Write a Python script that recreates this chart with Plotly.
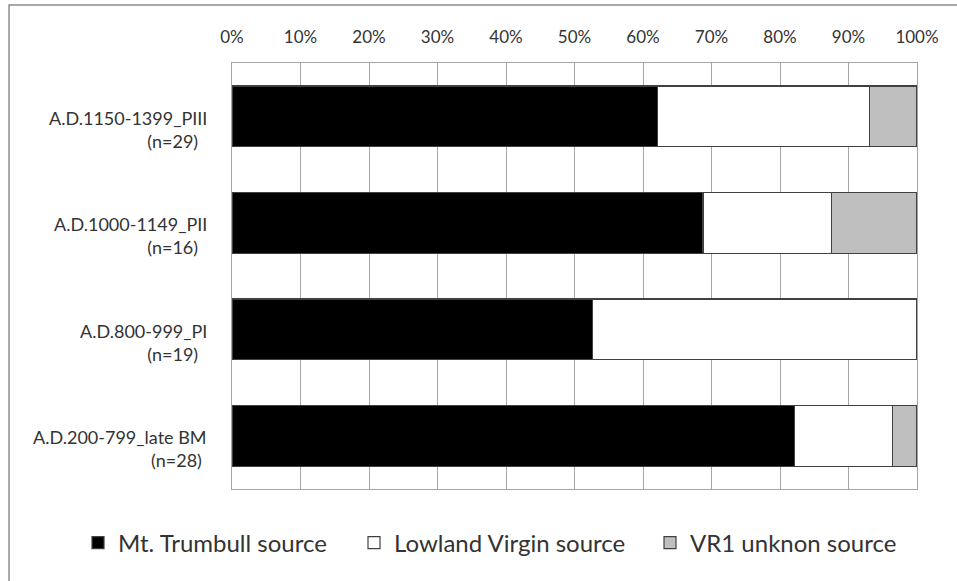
import plotly.graph_objects as go

categories = [
    "A.D.200-799_late BM",
    "A.D.800-999_PI",
    "A.D.1000-1149_PII",
    "A.D.1150-1399_PIII",
]
sample_sizes = ["(n=28)", "(n=19)", "(n=16)", "(n=29)"]
mt_trumbull = [23, 10, 11, 18]
lowland_virgin = [4, 9, 3, 9]
vr1_unknown = [1, 0, 2, 2]
tick_vals = [0, 10, 20, 30, 40, 50, 60, 70, 80, 90, 100]
tick_text = [f"{v}%" for v in tick_vals]

series = [
    ("Mt. Trumbull source", mt_trumbull, "#000000", 231),
    ("Lowland Virgin source", lowland_virgin, "#ffffff", 251),
    ("VR1 unknon source", vr1_unknown, "#bfbfbf", 215),
]

fig = go.Figure()
for name, vals, color, lw in series:
    fig.add_trace(go.Bar(
        y=categories, x=vals, name=name, orientation="h", legendwidth=lw,
        marker=dict(color=color, line=dict(color="#404040", width=1.2)),
    ))

pad = {"(n=28)": 1, "(n=19)": 2, "(n=16)": 2, "(n=29)": 2}
annotations = []
for cat, n in zip(categories, sample_sizes):
    annotations.append(dict(
        xref="paper", yref="y", x=0, y=cat, xanchor="right", yanchor="middle",
        xshift=-23, yshift=-13, showarrow=False, align="right",
        text=f"{cat}<br>{n}" + "\u00a0" * pad[n],
        font=dict(size=18),
    ))

font_family = "Lato, 'Open Sans', sans-serif"
fig.update_layout(
    barmode="stack",
    barnorm="percent",
    bargap=0.43,
    width=957, height=581,
    margin=dict(l=232, r=40, t=63, b=92, autoexpand=False),
    paper_bgcolor="white",
    plot_bgcolor="white",
    font=dict(family=font_family, size=18, color="#333333"),
    xaxis=dict(
        side="top", range=[0, 100], tickvals=tick_vals, ticktext=tick_text,
        showgrid=True, gridcolor="#a6a6a6", gridwidth=1,
        showline=True, linecolor="#a6a6a6", mirror=True, zeroline=False,
        ticks="", ticklabelstandoff=12, fixedrange=True,
        tickfont=dict(size=17),
    ),
    yaxis=dict(
        showgrid=False, showline=True, linecolor="#a6a6a6", mirror=True,
        ticks="", showticklabels=False, fixedrange=True,
    ),
    legend=dict(
        orientation="h", x=-0.2248, xanchor="left", y=-0.1268, yanchor="middle",
        font=dict(size=24), traceorder="normal", itemwidth=30,
    ),
    showlegend=True,
    annotations=annotations,
    shapes=[dict(
        type="rect", xref="paper", yref="paper",
        x0=-0.3255, x1=1.2, y0=-0.3, y1=1.136,
        line=dict(color="#8c8c8c", width=1.5), fillcolor="rgba(0,0,0,0)",
        layer="below",
    )],
)

fig.write_html("out.html", config={"displayModeBar": False},
               post_script="document.body.style.margin='0';")
